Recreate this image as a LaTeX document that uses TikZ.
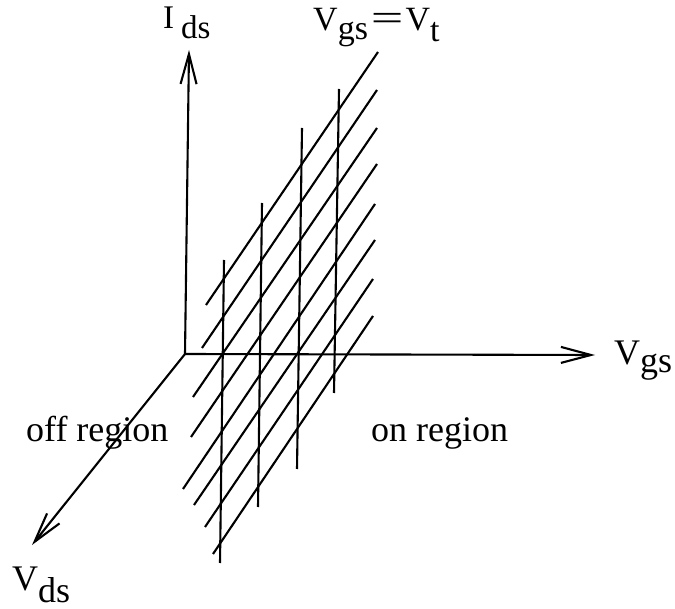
\documentclass[tikz,border=0pt]{standalone}
\usepackage{fontspec}
\setmainfont{Liberation Serif}
\usepackage{graphicx}
\usetikzlibrary{arrows.meta}
\newcommand\lsub[2]{\lower#1pt\hbox{#2}}
\begin{document}
\begin{tikzpicture}[x=1pt,y=-1pt,
  axis/.style={line width=2.1pt, -{Straight Barb[length=30pt,width=16pt]}},
  hatch/.style={line width=2.1pt},
  lbl/.style={anchor=base west, inner sep=0pt, font=\fontsize{36}{40}\selectfont}]
\useasboundingbox (0,0) rectangle (675,609);
% axes
\coordinate (O) at (185,354);
\coordinate (Itip) at (189,50);
\coordinate (Gtip) at (595,355);
\coordinate (Dtip) at (32,545);
\draw[axis] (O) -- (Itip);
\draw[axis] (O) -- (Gtip);
\draw[axis] (O) -- (Dtip);
% hatched plane: vertical lines
\draw[hatch] (224,260) -- (220,563);
\draw[hatch] (262,203) -- (258,507);
\draw[hatch] (302,128) -- (297,469);
\draw[hatch] (339,89) -- (334,393);
% hatched plane: diagonal lines
\draw[hatch] (378,52) -- (206,305);
\draw[hatch] (377,90) -- (202,348);
\draw[hatch] (377,128) -- (193,397);
\draw[hatch] (377,164) -- (191,437);
\draw[hatch] (375,204) -- (183,489);
\draw[hatch] (375,240) -- (194,505);
\draw[hatch] (373,279) -- (205,527);
\draw[hatch] (373,316) -- (213,554);
% labels
\node[lbl, font=\fontsize{33}{38}\selectfont] (ids) at (163,29) {I\kern7pt\lsub{10}{ds}};
\node[lbl, font=\fontsize{34}{38}\selectfont] (vgsvt) at (313,31) {V\lsub{9}{gs}\kern3pt\scalebox{1.7}[1.1]{=}\kern2pt V\lsub{11}{t}};
\node[lbl] (vgs) at (614,365) {V\lsub{8}{gs}};
\node[lbl] (vds) at (12,590) {V\lsub{12}{ds}};
\node[lbl] (off) at (26,442) {off region};
\node[lbl] (on) at (371,442) {on region};
\end{tikzpicture}
\end{document}
